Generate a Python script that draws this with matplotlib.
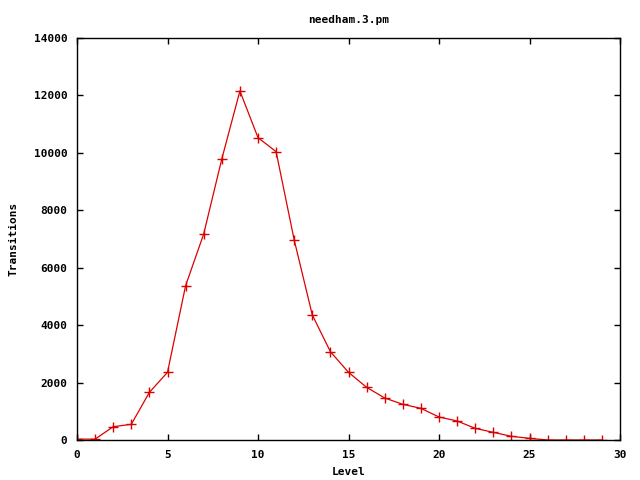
import numpy as np
import matplotlib
matplotlib.use('Agg')
import matplotlib.pyplot as plt

# data
level = list(range(30))
transitions = [30, 30, 463, 547, 1660, 2357, 5374, 7175, 9787, 12156,
               10530, 10042, 6966, 4354, 3076, 2357, 1834, 1463, 1242, 1103,
               801, 662, 406, 267, 128, 58, 0, 0, 0, 0]
xticks = [0, 5, 10, 15, 20, 25, 30]
yticks = [0, 2000, 4000, 6000, 8000, 10000, 12000, 14000]

plt.rcParams['font.family'] = ['DejaVu Sans Mono']
plt.rcParams['font.weight'] = 'bold'
plt.rcParams['font.size'] = 8

fig = plt.figure(figsize=(6.4, 4.8), dpi=100)
ax = fig.add_axes([77/640, 40/480, (620-77)/640, (440-38)/480])

ax.plot(level, transitions, color='#dd0000', lw=0.9, marker='+',
        markersize=6.5, markeredgewidth=1.0)

ax.set_xlim(0, 30)
ax.set_ylim(0, 14000)
ax.set_xticks(xticks)
ax.set_yticks(yticks)
ax.tick_params(direction='in', length=4, width=1, top=True, right=True,
               labelsize=8)
ax.tick_params(axis='x', pad=7)
ax.tick_params(axis='y', pad=7)
for s in ax.spines.values():
    s.set_linewidth(1)

ax.set_title('needham.3.pm', fontsize=8, fontweight='bold', pad=11)
ax.set_xlabel('Level', fontsize=8, fontweight='bold', labelpad=5)
ax.set_ylabel('Transitions', fontsize=8, fontweight='bold', labelpad=11)

fig.savefig('out.png', dpi=100)
